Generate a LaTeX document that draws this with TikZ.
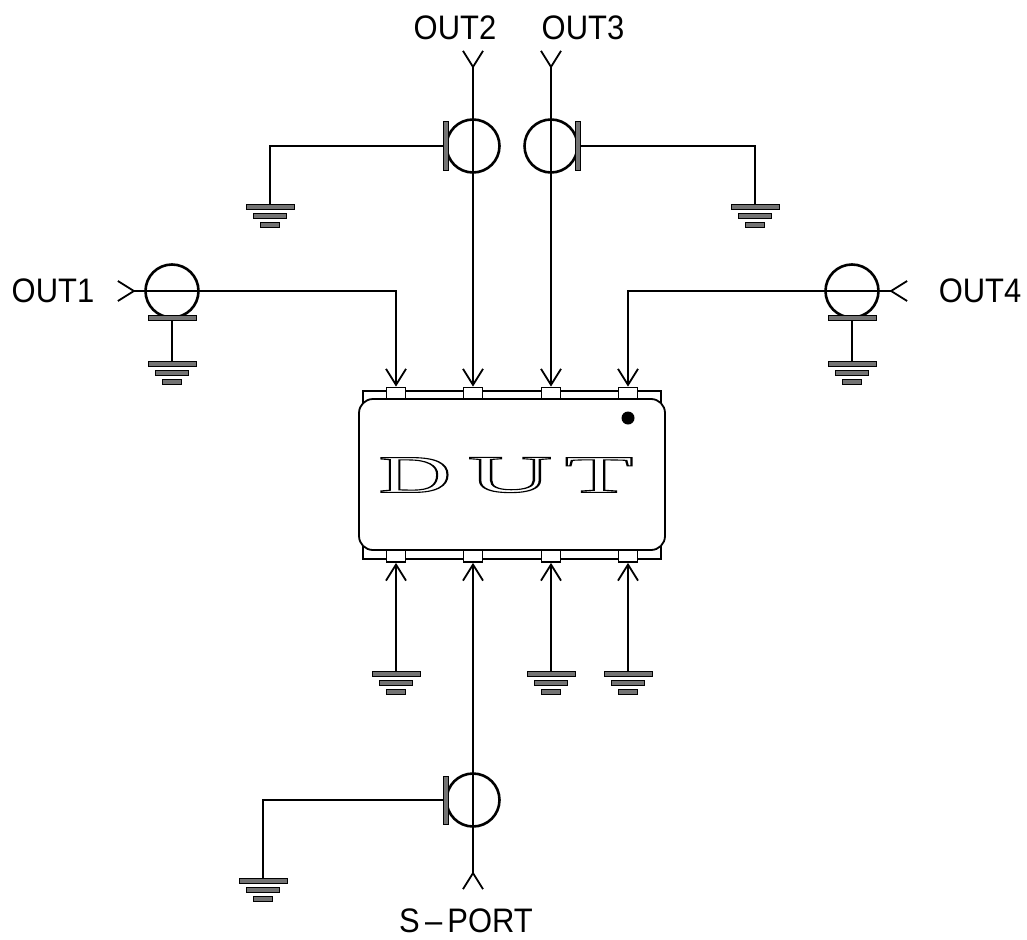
\documentclass[tikz,border=0pt]{standalone}
\usepackage{fontspec}
\setmainfont{Liberation Sans}
\newfontfamily\dutfont{Liberation Serif}
\usepackage{tikz}
\usetikzlibrary{positioning,shapes,arrows.meta,calc}
\definecolor{bargray}{gray}{0.45}
\tikzstyle{lbl}=[%
      font=\fontsize{34}{34}\selectfont, inner sep=0pt, xscale=0.91
]
\tikzstyle{probe}=[%
      circle, draw=black, line width=2.6pt, fill=none, minimum size=53pt, inner sep=0pt
]
\tikzstyle{hbar}=[%
      rectangle, draw=black, line width=1pt, fill=bargray, minimum width=48pt, minimum height=4.5pt, inner sep=0pt
]
\tikzstyle{vbar}=[%
      rectangle, draw=black, line width=1pt, fill=bargray, minimum width=4.5pt, minimum height=48pt, inner sep=0pt
]
\tikzstyle{pin}=[%
      rectangle, draw=black, line width=1.8pt, fill=white, minimum width=19pt, minimum height=12pt, inner sep=0pt
]
\tikzstyle{letter}=[%
      font=\dutfont\fontsize{53}{53}\selectfont, inner sep=0pt
]
\newcommand{\outl}[1]{\special{pdf:code 1 Tr 1.1 w}#1\special{pdf:code 0 Tr}}

\begin{document}
\begin{tikzpicture}[x=1pt,y=-1pt,
    line width=1.8pt,
    >={Straight Barb[length=16pt,width=20pt,line width=1.8pt]},
    fork/.style={-{Straight Barb[length=16pt,width=20pt,line width=1.8pt,reversed]}}
  ]
    \useasboundingbox (0,0) rectangle (1027,939);

    % package
    \node[rectangle, draw=black, minimum width=298pt, minimum height=168pt, inner sep=0pt] (back) at (512,475) {};
    \foreach \n/\x in {1/396,2/473,3/551,4/628}{
      \node[pin] (t\n) at (\x,393.5) {};
      \node[pin] (b\n) at (\x,556) {};
    }
    \node[rectangle, rounded corners=14pt, draw=black, fill=white, minimum width=306pt, minimum height=151pt, inner sep=0pt] (body) at (512,474.5) {};
    \node[circle, fill=black, minimum size=13pt, inner sep=0pt] (dot) at (628,418) {};
    \node[letter, xscale=1.91] (d) at (415,475) {\outl{D}};
    \node[letter, xscale=2.2] (u) at (510,475) {\outl{U}};
    \node[letter, xscale=2.12] (t) at (599,475) {\outl{T}};

    % probes
    \node[probe] (p1) at (172,291) {};
    \node[probe] (p2) at (473,146) {};
    \node[probe] (p3) at (551,146) {};
    \node[probe] (p4) at (852,291) {};
    \node[probe] (p5) at (473,800) {};
    \node[hbar] (s1) at (172,318) {};
    \node[hbar] (s4) at (852,318) {};
    \node[vbar] (s2) at (446,146) {};
    \node[vbar] (s3) at (578,146) {};
    \node[vbar] (s5) at (446,800) {};

    % grounds
    \foreach \n/\x/\y in {1/172/364,2/270/207,3/755/207,4/852/364,5/263/881,6/396/674,7/551/674,8/628/674}{
      \node[hbar] (g\n) at (\x,\y) {};
      \node[hbar, minimum width=33pt] (gg\n) at (\x,\y+9) {};
      \node[hbar, minimum width=19pt] (ggg\n) at (\x,\y+18) {};
    }

    % ports
    \coordinate (o1) at (117,291);
    \coordinate (o2) at (473,50);
    \coordinate (o3) at (551,50);
    \coordinate (o4) at (908,291);
    \coordinate (o5) at (473,890);

    \node[lbl] (out1) at (53,291) {OUT1};
    \node[lbl] (out2) at (455,28) {OUT2};
    \node[lbl] (out3) at (583,28) {OUT3};
    \node[lbl] (out4) at (980,291) {OUT4};
    \node[lbl] (sport) at (466,921) {S\,--\,PORT};

    \draw[->] (p1.east) -| (t1.north);
    \draw[->] (p4.west) -| (t4.north);
    \draw[->] (p2.south) -- (t2.north);
    \draw[->] (p3.south) -- (t3.north);
    \draw[fork] (p1.east) -- (o1);
    \draw[fork] (p4.west) -- (o4);
    \draw[fork] (p2.south) -- (o2);
    \draw[fork] (p3.south) -- (o3);
    \draw[fork] (p5.north) -- (o5);
    \draw[->] (p5.north) -- (b2.south);
    \draw[->] (g6) -- (b1.south);
    \draw[->] (g7) -- (b3.south);
    \draw[->] (g8) -- (b4.south);
    \draw (s1) -- (g1);
    \draw (s4) -- (g4);
    \draw (s2) -| (g2);
    \draw (s3) -| (g3);
    \draw (s5) -| (g5);
\end{tikzpicture}
\end{document}
